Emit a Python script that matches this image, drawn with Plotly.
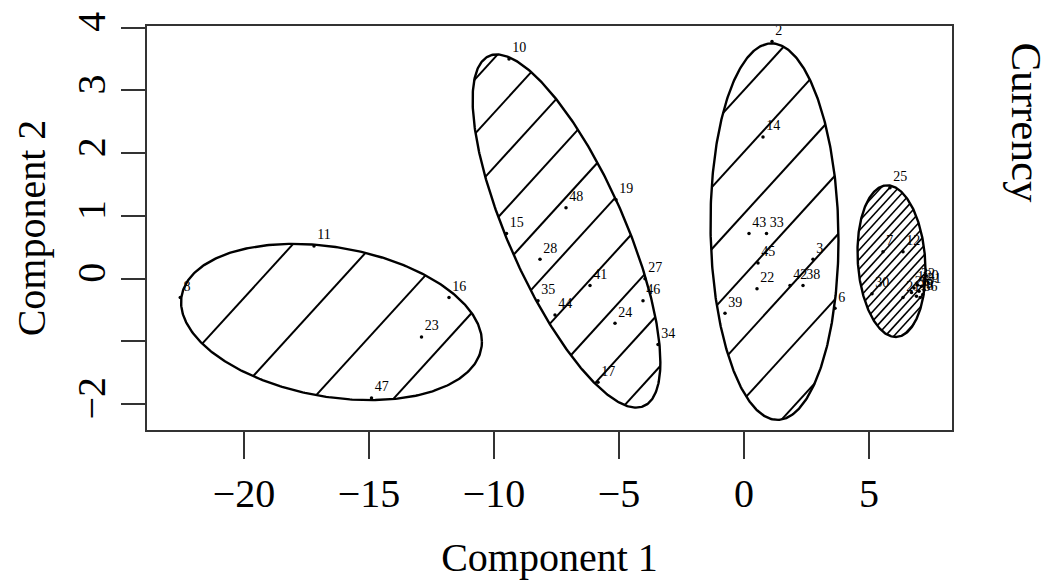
import numpy as np
import plotly.graph_objects as go

# ---- data ----
pt_x = [-22.55, -17.2, -11.8, -12.9, -14.9,
        -9.4, -5.12, -7.12, -9.5, -8.16, -6.16, -3.96, -8.24, -7.56, -4.04, -5.16, -3.44, -5.84,
        1.12, 0.76, 0.2, 0.9, 0.56, 0.52, 2.76, 1.84, 2.36, 3.64, -0.76,
        5.84, 5.56, 6.36, 5.12, 6.36, 6.8, 7.0, 7.15, 6.9, 7.1, 6.7, 7.2, 6.95, 7.05]
pt_y = [-0.3, 0.52, -0.3, -0.93, -1.9,
        3.5, 1.26, 1.13, 0.72, 0.31, -0.11, 0.0, -0.35, -0.58, -0.35, -0.71, -1.05, -1.65,
        3.78, 2.26, 0.72, 0.72, 0.25, -0.16, 0.31, -0.11, -0.11, -0.47, -0.55,
        1.45, 0.43, 0.43, -0.24, -0.3, -0.15, -0.2, -0.25, -0.28, -0.12, -0.22, -0.18, -0.1, -0.3]
pt_lab = ["8", "11", "16", "23", "47",
          "10", "19", "48", "15", "28", "41", "27", "35", "44", "46", "24", "34", "17",
          "2", "14", "43", "33", "45", "22", "3", "42", "38", "6", "39",
          "25", "7", "12", "30", "21", "1", "5", "9", "18", "20", "26", "31", "32", "36"]

# cluster ellipses: centre and shape matrix (data units)
ell_cx = [-16.5, -7.1, 1.22, 5.9]
ell_cy = [-0.69, 0.76, 0.75, 0.28]
ell_vxx = [36.2, 14.1, 6.55, 1.85]
ell_vyy = [1.55, 7.92, 9.0, 1.46]
ell_vxy = [-1.9, -7.85, -0.35, -0.2]

x_ticks = [-20, -15, -10, -5, 0, 5]
y_ticks = [-2, -1, 0, 1, 2, 3, 4]
y_ticktext = ["\u22122", "", "0", "1", "2", "3", "4"]
x_ticktext = ["\u221220", "\u221215", "\u221210", "\u22125", "0", "5"]

# ---- layout / style ----
W, H = 1050, 584
ML, MR, MT, MB = 147, 98, 20, 152
XR = [-23.88, 8.32]
YR = [-2.411, 4.027]
hatch_space = [60, 37, 42, 6.5]
hatch_phase = [380, 440.7, 695.6, 0]
hatch_w = [2, 2, 2, 1.6]
FONT = "Liberation Serif"

pw, ph = W - ML - MR, H - MT - MB
sx = pw / (XR[1] - XR[0])
sy = ph / (YR[1] - YR[0])
nrm = np.array([0.745, 0.666])
nrm = nrm / np.linalg.norm(nrm)


def to_px(x, y):
    return np.array([ML + (x - XR[0]) * sx, MT + (YR[1] - y) * sy])


def to_data(p):
    return XR[0] + (p[0] - ML) / sx, YR[1] - (p[1] - MT) / sy


fig = go.Figure()
t = np.linspace(0, 2 * np.pi, 400)
for i in range(len(ell_cx)):
    a = np.sqrt(ell_vxx[i])
    b = ell_vxy[i] / a
    c = np.sqrt(ell_vyy[i] - b * b)
    ex = ell_cx[i] + a * np.cos(t)
    ey = ell_cy[i] + b * np.cos(t) + c * np.sin(t)
    fig.add_trace(go.Scatter(x=ex, y=ey, mode="lines", line=dict(color="black", width=2.4),
                             hoverinfo="skip", showlegend=False))
    # diagonal shading lines, laid out in screen space
    M = np.array([[sx * a, 0.0], [-sy * b, -sy * c]])
    pc = to_px(ell_cx[i], ell_cy[i])
    w = M.T @ nrm
    Rw = np.linalg.norm(w)
    perp = np.array([-w[1], w[0]]) / Rw
    d0 = nrm @ pc
    sp = hatch_space[i]
    k0 = np.ceil((d0 - Rw - hatch_phase[i]) / sp)
    k1 = np.floor((d0 + Rw - hatch_phase[i]) / sp)
    hx, hy = [], []
    for k in np.arange(k0, k1 + 1):
        d = hatch_phase[i] + k * sp
        r = d - d0
        if abs(r) >= Rw:
            continue
        u0 = (r / Rw ** 2) * w
        h = np.sqrt(1 - (r / Rw) ** 2)
        for sgn in (1, -1):
            u = u0 + sgn * h * perp
            p = pc + M @ u
            xx, yy = to_data(p)
            hx.append(xx)
            hy.append(yy)
        hx.append(None)
        hy.append(None)
    fig.add_trace(go.Scatter(x=hx, y=hy, mode="lines", line=dict(color="black", width=hatch_w[i]),
                             hoverinfo="skip", showlegend=False))

fig.add_trace(go.Scatter(x=pt_x, y=pt_y, mode="markers+text", text=pt_lab,
                         textposition="top right",
                         textfont=dict(family=FONT, size=14, color="black"),
                         marker=dict(color="black", size=3.5),
                         showlegend=False))

fig.update_layout(
    width=W, height=H,
    margin=dict(l=ML, r=MR, t=MT, b=MB),
    paper_bgcolor="white", plot_bgcolor="white",
    font=dict(family=FONT, size=40, color="black"),
    xaxis=dict(range=XR, tickvals=x_ticks, ticktext=x_ticktext, ticks="outside", ticklen=27,
               tickwidth=2, tickcolor="#333", showgrid=False, zeroline=False,
               showline=True, linecolor="#333", linewidth=2, mirror=True,
               title=dict(text="Component 1", standoff=28, font=dict(family=FONT, size=40)),
               tickfont=dict(family=FONT, size=40)),
    yaxis=dict(range=YR, tickvals=y_ticks, ticktext=y_ticktext, ticks="outside", ticklen=24,
               tickwidth=2, tickcolor="#333", showgrid=False, zeroline=False,
               showline=True, linecolor="#333", linewidth=2, mirror=True, tickangle=-90,
               title=dict(text="Component 2", standoff=11, font=dict(family=FONT, size=40)),
               tickfont=dict(family=FONT, size=40)),
    annotations=[dict(text="Currency", xref="paper", yref="paper", x=1.092, y=0.761,
                      xanchor="center", yanchor="middle", showarrow=False, textangle=90,
                      font=dict(family=FONT, size=43, color="black"))],
)

fig.write_html("out.html")
